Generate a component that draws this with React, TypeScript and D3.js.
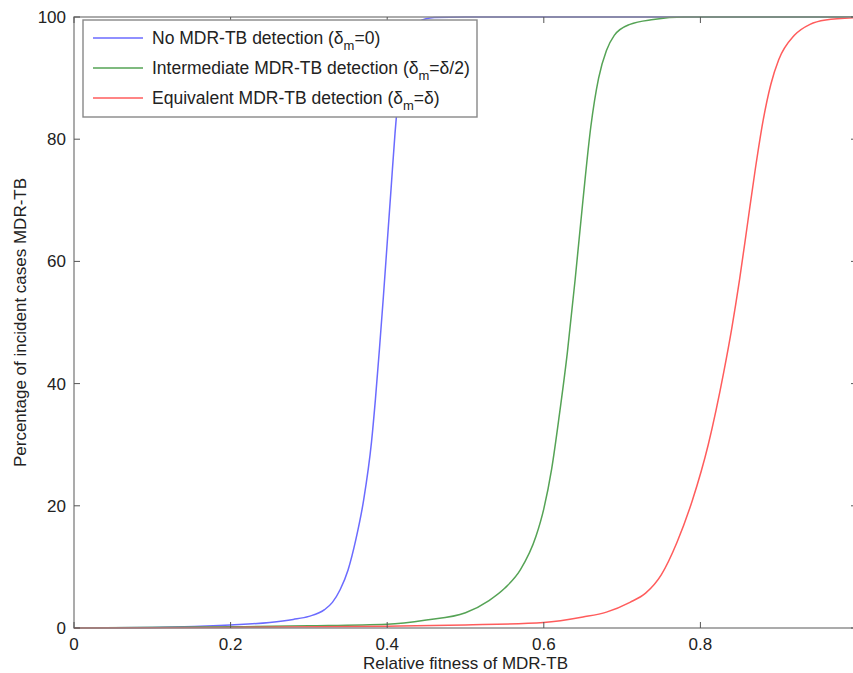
import * as d3 from "d3";
import { useEffect, useRef } from "react";

// values (fitness, percentage)
const noDetectionFitness = [0, 0.1, 0.2, 0.25, 0.28, 0.3, 0.32, 0.33, 0.34, 0.35, 0.36, 0.37, 0.38, 0.385, 0.39, 0.395, 0.4, 0.405, 0.41, 0.415, 0.42, 0.43, 0.44, 0.46, 0.5, 1.0];
const noDetectionPct = [0, 0.1, 0.5, 0.9, 1.4, 1.9, 3.0, 4.2, 6.3, 9.5, 14.5, 21, 30.5, 37.5, 45.5, 54, 63, 72, 81, 88, 93, 97.5, 99.2, 99.9, 100, 100];

const intermediateFitness = [0, 0.2, 0.3, 0.4, 0.45, 0.5, 0.53, 0.55, 0.57, 0.59, 0.6, 0.61, 0.62, 0.63, 0.64, 0.65, 0.66, 0.67, 0.68, 0.69, 0.71, 0.74, 0.78, 1.0];
const intermediatePct = [0, 0.2, 0.35, 0.6, 1.3, 2.5, 4.5, 6.5, 9.5, 15, 19.5, 26, 35, 45, 57, 70, 82, 90, 94.5, 97, 98.8, 99.6, 100, 100];

const equivalentFitness = [0, 0.2, 0.4, 0.5, 0.6, 0.65, 0.68, 0.71, 0.73, 0.75, 0.77, 0.79, 0.81, 0.83, 0.84, 0.85, 0.86, 0.87, 0.88, 0.89, 0.9, 0.92, 0.94, 0.96, 1.0];
const equivalentPct = [0, 0.1, 0.3, 0.5, 0.9, 1.8, 2.6, 4.2, 5.7, 8.7, 14, 21, 30, 42, 49, 57, 66, 75, 83, 89, 93, 97, 98.8, 99.5, 99.9];

const xTicks = [0, 0.2, 0.4, 0.6, 0.8, 1.0];
const yTicks = [0, 20, 40, 60, 80, 100];

const seriesNames = ["No MDR-TB detection", "Intermediate MDR-TB detection", "Equivalent MDR-TB detection"];
const seriesRhs = ["0", "\u03b4/2", "\u03b4"];
const seriesColors = ["#6b6bff", "#55a355", "#ff5c5c"];

export default function App() {
    const ref = useRef<SVGSVGElement>(null);

    useEffect(() => {
        const svg = d3.select(ref.current);
        svg.selectAll("*").remove();

        const width = 853;
        const height = 673;
        const margin = { top: 17, right: -4, bottom: 45, left: 74 };
        const plotW = width - margin.left - margin.right;
        const plotH = height - margin.top - margin.bottom;
        const font = "'Liberation Sans', Arial, sans-serif";
        const axisColor = "#888";

        svg.attr("width", width).attr("height", height);

        const x = d3.scaleLinear().domain([0, 1]).range([margin.left, margin.left + plotW]);
        const y = d3.scaleLinear().domain([0, 100]).range([margin.top + plotH, margin.top]);

        const series = [
            d3.zip(noDetectionFitness, noDetectionPct),
            d3.zip(intermediateFitness, intermediatePct),
            d3.zip(equivalentFitness, equivalentPct),
        ];

        const line = d3
            .line<number[]>()
            .x(d => x(d[0]))
            .y(d => y(d[1]))
            .curve(d3.curveMonotoneX);

        series.forEach((pts, i) => {
            svg.append("path")
                .attr("d", line(pts))
                .attr("fill", "none")
                .attr("stroke", seriesColors[i])
                .attr("stroke-width", 1.5);
        });

        // box
        svg.append("rect")
            .attr("x", x(0))
            .attr("y", y(100))
            .attr("width", x(1) - x(0))
            .attr("height", y(0) - y(100))
            .attr("fill", "none")
            .attr("stroke", axisColor)
            .attr("stroke-width", 1.4);

        const tickLen = 6;
        xTicks.forEach(t => {
            svg.append("line").attr("x1", x(t)).attr("x2", x(t)).attr("y1", y(0)).attr("y2", y(0) - tickLen).attr("stroke", "#555");
            svg.append("line").attr("x1", x(t)).attr("x2", x(t)).attr("y1", y(100)).attr("y2", y(100) + tickLen).attr("stroke", "#555");
            if (t < 1) {
                svg.append("text")
                    .attr("x", x(t))
                    .attr("y", 650)
                    .attr("text-anchor", "middle")
                    .style("font-family", font)
                    .style("font-size", "17px")
                    .attr("fill", "#222")
                    .text(t === 0 ? "0" : d3.format(".1f")(t));
            }
        });
        yTicks.forEach(t => {
            svg.append("line").attr("x1", x(0)).attr("x2", x(0) + tickLen).attr("y1", y(t)).attr("y2", y(t)).attr("stroke", "#555");
            svg.append("line").attr("x1", x(1)).attr("x2", x(1) - tickLen).attr("y1", y(t)).attr("y2", y(t)).attr("stroke", "#555");
            svg.append("text")
                .attr("x", 66)
                .attr("y", y(t) + 6)
                .attr("text-anchor", "end")
                .style("font-family", font)
                .style("font-size", "17px")
                .attr("fill", "#222")
                .text(t);
        });

        // axis labels
        svg.append("text")
            .attr("x", x(0.5))
            .attr("y", 669)
            .attr("text-anchor", "middle")
            .style("font-family", font)
            .style("font-size", "17px")
            .attr("fill", "#222")
            .text("Relative fitness of MDR-TB");

        svg.append("text")
            .attr("transform", `translate(26,${y(50)}) rotate(-90)`)
            .attr("text-anchor", "middle")
            .style("font-family", font)
            .style("font-size", "17px")
            .attr("fill", "#222")
            .text("Percentage of incident cases MDR-TB");

        // legend
        const lg = svg.append("g");
        lg.append("rect")
            .attr("x", 83)
            .attr("y", 20)
            .attr("width", 394)
            .attr("height", 97)
            .attr("fill", "white")
            .attr("stroke", axisColor)
            .attr("stroke-width", 1.4);

        seriesNames.forEach((name, i) => {
            const cy = 38 + i * 30;
            lg.append("line")
                .attr("x1", 93)
                .attr("x2", 143)
                .attr("y1", cy)
                .attr("y2", cy)
                .attr("stroke", seriesColors[i])
                .attr("stroke-width", 1.4);
            const t = lg.append("text")
                .attr("x", 152)
                .attr("y", cy + 6)
                .style("font-family", font)
                .style("font-size", "17.5px")
                .attr("fill", "#222");
            t.append("tspan").text(`${name} (\u03b4`);
            t.append("tspan").attr("dy", 6).style("font-size", "13px").text("m");
            t.append("tspan").attr("dy", -6).text(`=${seriesRhs[i]})`);
        });
    }, []);

    return <svg ref={ref} style={{ position: "absolute", left: 0, top: 0, background: "white" }} />;
}
